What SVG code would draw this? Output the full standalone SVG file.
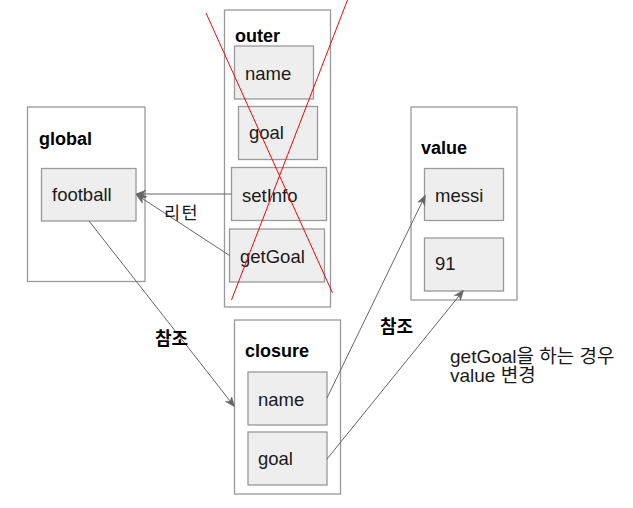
<svg xmlns="http://www.w3.org/2000/svg" width="633" height="508" viewBox="0 0 633 508">
<style>
.frame{fill:#ffffff;stroke:#999999;stroke-width:1.3}
.cell{fill:#eeeeee;stroke:#999999;stroke-width:1.3}
.t{font-family:"Liberation Sans","Noto Sans CJK KR",sans-serif;font-size:18.5px;fill:#1a1a1a}
.b{font-family:"Liberation Sans","Noto Sans CJK KR",sans-serif;font-size:18px;font-weight:bold;fill:#000000}
.k{font-family:"Liberation Sans","Noto Sans CJK KR",sans-serif;font-size:17.5px;fill:#1a1a1a}
.n{font-family:"Liberation Sans","Noto Sans CJK KR",sans-serif;font-size:19px;fill:#1a1a1a}
.edge{fill:none;stroke:#666666;stroke-width:1}
.cross{fill:none;stroke:#ff0000;stroke-width:1}
</style>
<defs>
<marker id="arr" markerUnits="userSpaceOnUse" markerWidth="10" markerHeight="10" viewBox="0 0 10 10" refX="9" refY="5" orient="auto">
<path d="M0,1 L10,5 L0,9 L3,5 z" fill="#666666" stroke="#666666" stroke-width="0.5"/>
</marker>
</defs>
<g id="global">
<rect class="frame" x="27.5" y="107" width="117.5" height="174.5"/>
<text class="b" x="39" y="145">global</text>
<rect class="cell" x="41.5" y="168.5" width="94.5" height="52.5"/>
<text class="t" x="52" y="201">football</text>
</g>
<g id="outer">
<rect class="frame" x="224.5" y="10" width="106" height="297"/>
<text class="b" x="235" y="42">outer</text>
<rect class="cell" x="234.5" y="46" width="79" height="53"/>
<text class="t" x="245" y="80">name</text>
<rect class="cell" x="238.5" y="106.5" width="79" height="53"/>
<text class="t" x="249" y="139">goal</text>
<rect class="cell" x="231.5" y="167.5" width="95" height="53"/>
<text class="t" x="242" y="201.5">setInfo</text>
<rect class="cell" x="229.5" y="229" width="95" height="53"/>
<text class="t" x="240" y="263">getGoal</text>
</g>
<g id="cross">
<line class="cross" x1="206" y1="13" x2="332.5" y2="293"/>
<line class="cross" x1="347.5" y1="0" x2="231.5" y2="300"/>
</g>
<g id="value">
<rect class="frame" x="411" y="107" width="106" height="193"/>
<text class="b" x="421" y="154">value</text>
<rect class="cell" x="424.5" y="168.5" width="79" height="52"/>
<text class="t" x="435" y="202">messi</text>
<rect class="cell" x="424.5" y="238" width="79" height="53"/>
<text class="t" x="435" y="270">91</text>
</g>
<g id="closure">
<rect class="frame" x="234.5" y="320" width="106" height="174"/>
<text class="b" x="245" y="357">closure</text>
<rect class="cell" x="248" y="372" width="79" height="53"/>
<text class="t" x="258" y="406">name</text>
<rect class="cell" x="248" y="432" width="79" height="53"/>
<text class="t" x="258" y="465">goal</text>
</g>
<g id="connectors">
<line class="edge" x1="231.5" y1="194" x2="137" y2="194" marker-end="url(#arr)"/>
<line class="edge" x1="229.5" y1="255.5" x2="137" y2="195" marker-end="url(#arr)"/>
<line class="edge" x1="89" y1="221" x2="234" y2="406" marker-end="url(#arr)"/>
<line class="edge" x1="327" y1="398" x2="425" y2="196" marker-end="url(#arr)"/>
<line class="edge" x1="327" y1="459" x2="463" y2="291" marker-end="url(#arr)"/>
</g>
<g id="labels">
<text class="k" x="164" y="219" letter-spacing="1.5">리턴</text>
<text class="b" x="155" y="345">참조</text>
<text class="b" x="380" y="333">참조</text>
<text class="n" x="450" y="363">getGoal을 하는 경우</text>
<text class="n" x="450" y="382">value 변경</text>
</g>
</svg>
